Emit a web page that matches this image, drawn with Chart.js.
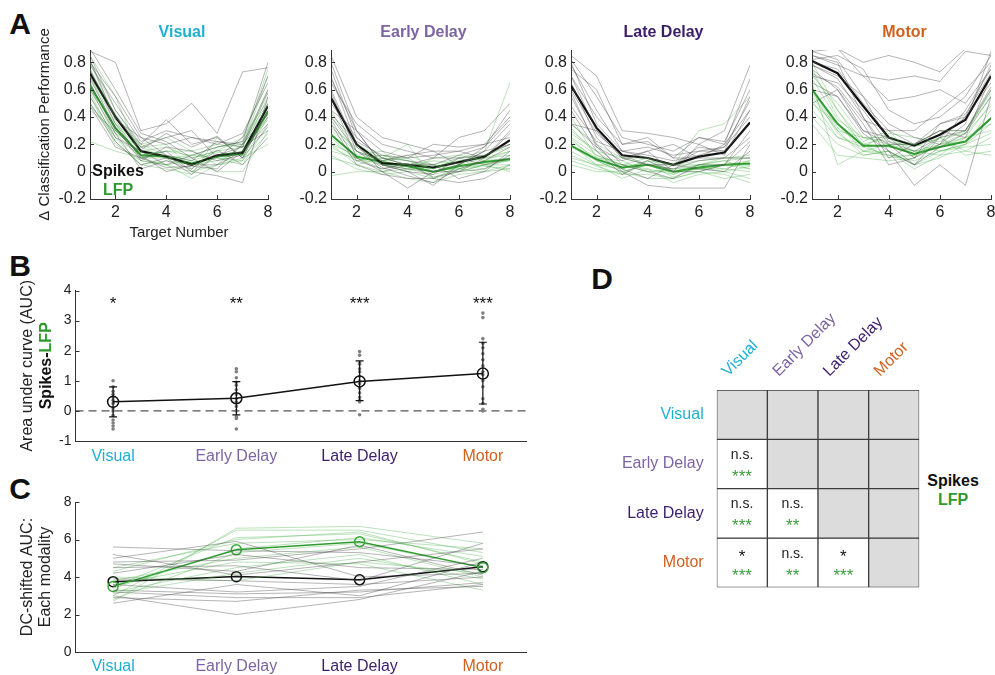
<!DOCTYPE html>
<html>
<head>
<meta charset="utf-8">
<title>Spikes vs LFP classification performance</title>
<script src="https://cdn.jsdelivr.net/npm/chart.js@4.4.1/dist/chart.umd.min.js"></script>
<style>
  html, body { margin:0; padding:0; background:#ffffff; }
  body { position:relative; width:995px; height:675px; overflow:hidden; font-family:"Liberation Sans", Arial, sans-serif; }
  canvas { position:absolute; }
  .t { position:absolute; white-space:nowrap; line-height:1; transform:translate(-50%,-50%); }
</style>
</head>
<body>
<div class="t" style="left:20px;top:24px;font-size:30px;font-weight:bold;color:#111">A</div>
<div class="t" style="left:20px;top:266px;font-size:30px;font-weight:bold;color:#111">B</div>
<div class="t" style="left:20px;top:489px;font-size:30px;font-weight:bold;color:#111">C</div>
<div class="t" style="left:602px;top:279px;font-size:30px;font-weight:bold;color:#111">D</div>
<div class="t" style="left:118px;top:171px;font-size:16px;font-weight:bold;color:#111;z-index:5">Spikes</div>
<div class="t" style="left:118px;top:190px;font-size:16px;font-weight:bold;color:#2d9a2d;z-index:5">LFP</div>
<div class="t" style="left:953px;top:481px;font-size:16px;font-weight:bold;color:#111">Spikes</div>
<div class="t" style="left:953px;top:500px;font-size:16px;font-weight:bold;color:#2d9a2d">LFP</div>
<script>
// ================= DATA =================
const TARGETS = [1, 2, 3, 4, 5, 6, 7, 8];
const A_XTICKS = [2, 4, 6, 8];
const A_YTICKS = [-0.2, 0, 0.2, 0.4, 0.6, 0.8];
const A_YTICK_LABELS = ['-0.2', '0', '0.2', '0.4', '0.6', '0.8'];

const EPOCHS = ['Visual', 'Early Delay', 'Late Delay', 'Motor'];
const EPOCH_COLORS = ['#1fb0d3', '#7d64a3', '#3b1d6c', '#d0611f'];

// Panel A — Visual
const visualSpikesMean = [0.72, 0.40, 0.15, 0.11, 0.05, 0.12, 0.14, 0.48];
const visualLfpMean    = [0.63, 0.32, 0.12, 0.11, 0.06, 0.11, 0.13, 0.44];
const visualSpikes = [
  [0.88, 0.80, 0.30, 0.35, 0.50, 0.28, 0.73, 0.76],
  [0.80, 0.55, 0.25, 0.20, 0.25, 0.22, 0.20, 0.60],
  [0.85, 0.45, 0.20, 0.38, 0.20, 0.25, 0.10, 0.45],
  [0.65, 0.30, 0.12, 0.00, 0.05, 0.05, 0.15, 0.35],
  [0.75, 0.35, 0.10, 0.15, 0.00, -0.03, -0.08, 0.55],
  [0.55, 0.25, 0.15, 0.05, 0.12, 0.18, 0.22, 0.80],
  [0.90, 0.60, 0.28, 0.22, 0.10, 0.00, 0.15, 0.40],
  [0.50, 0.22, 0.05, 0.10, -0.02, 0.12, 0.18, 0.30],
  [0.70, 0.40, 0.18, 0.25, 0.30, 0.10, 0.25, 0.70],
  [0.60, 0.28, 0.02, 0.08, 0.02, 0.16, 0.05, 0.25],
  [0.78, 0.50, 0.22, 0.30, 0.25, 0.20, 0.28, 0.65],
  [0.68, 0.32, 0.08, 0.18, 0.15, 0.08, 0.12, 0.50],
  [0.82, 0.38, 0.25, 0.12, 0.08, 0.22, 0.18, 0.58],
  [0.48, 0.18, 0.10, 0.03, 0.04, 0.02, 0.20, 0.42],
  [0.73, 0.42, 0.16, 0.28, 0.18, 0.26, 0.10, 0.33]
];
const visualLfp = [
  [0.85, 0.55, 0.10, 0.10, 0.05, 0.10, 0.08, 0.40],
  [0.22, 0.15, 0.10, 0.05, -0.05, 0.05, 0.10, 0.20],
  [0.60, 0.35, 0.15, 0.18, 0.10, 0.15, 0.18, 0.60],
  [0.75, 0.40, 0.20, 0.12, 0.00, 0.12, 0.15, 0.55],
  [0.50, 0.25, 0.05, 0.02, -0.02, 0.25, 0.10, 0.45],
  [0.70, 0.30, 0.12, 0.15, 0.15, 0.05, 0.20, 0.75],
  [0.55, 0.20, 0.08, 0.05, 0.08, 0.00, 0.00, 0.30],
  [0.80, 0.45, 0.18, 0.20, 0.02, 0.18, 0.22, 0.50],
  [0.45, 0.30, 0.14, 0.10, 0.12, 0.10, 0.05, 0.35],
  [0.65, 0.28, 0.10, 0.12, 0.08, 0.14, 0.12, 0.42],
  [0.70, 0.35, 0.20, 0.25, 0.15, 0.20, 0.18, 0.70],
  [0.58, 0.22, 0.05, 0.08, 0.05, 0.08, 0.15, 0.38],
  [0.48, 0.28, 0.18, 0.10, 0.10, 0.15, 0.25, 0.52],
  [0.80, 0.38, 0.08, 0.05, 0.00, 0.05, 0.08, 0.28],
  [0.62, 0.25, 0.12, 0.15, 0.12, 0.18, 0.20, 0.48]
];

// Panel A — Early Delay
const earlySpikesMean = [0.54, 0.20, 0.06, 0.05, 0.03, 0.07, 0.11, 0.23];
const earlyLfpMean    = [0.27, 0.11, 0.07, 0.04, 0.00, 0.04, 0.07, 0.09];
const earlySpikes = [
  [0.85, 0.40, 0.25, 0.20, 0.15, 0.15, 0.20, 0.40],
  [0.80, 0.30, 0.05, 0.00, -0.10, 0.05, 0.15, 0.35],
  [0.70, 0.20, 0.00, 0.05, 0.10, 0.25, 0.30, 0.50],
  [0.55, 0.10, 0.00, -0.12, 0.00, 0.00, 0.10, 0.30],
  [0.50, 0.25, 0.10, 0.05, 0.05, -0.05, 0.00, 0.15],
  [0.40, 0.15, 0.08, 0.12, 0.15, 0.05, 0.15, 0.20],
  [0.65, 0.35, 0.20, 0.15, 0.10, 0.10, 0.05, 0.10],
  [0.35, 0.05, -0.02, -0.05, -0.05, -0.08, -0.05, 0.05],
  [0.45, 0.30, 0.15, 0.10, 0.20, 0.18, 0.20, 0.25],
  [0.60, 0.18, 0.05, 0.00, -0.02, 0.10, 0.12, 0.20],
  [0.75, 0.25, 0.10, 0.08, 0.05, 0.12, 0.18, 0.45],
  [0.58, 0.15, 0.03, -0.03, -0.08, 0.02, 0.08, 0.18],
  [0.42, 0.22, 0.12, 0.10, 0.12, 0.15, 0.10, 0.28],
  [0.68, 0.30, 0.05, 0.02, 0.00, 0.05, 0.18, 0.38],
  [0.38, 0.08, 0.02, 0.06, -0.04, 0.00, 0.02, 0.12]
];
const earlyLfp = [
  [0.30, 0.15, 0.05, 0.05, 0.00, 0.05, 0.10, 0.15],
  [0.20, 0.05, 0.10, 0.20, -0.05, 0.00, 0.05, 0.05],
  [0.10, 0.05, 0.00, -0.05, -0.08, -0.02, 0.00, 0.02],
  [0.40, 0.20, 0.10, 0.05, 0.05, 0.10, 0.15, 0.65],
  [0.25, 0.08, 0.12, 0.08, 0.02, 0.08, 0.10, 0.12],
  [0.15, 0.10, 0.05, 0.02, 0.05, 0.00, 0.05, 0.08],
  [0.35, 0.15, 0.08, 0.10, 0.00, 0.05, 0.02, 0.10],
  [-0.03, 0.00, 0.00, 0.02, -0.02, 0.02, 0.05, 0.00],
  [0.20, 0.12, 0.15, 0.00, 0.10, 0.12, 0.08, 0.15],
  [0.28, 0.10, 0.02, 0.06, -0.05, 0.04, 0.06, 0.08],
  [0.22, 0.10, 0.12, 0.08, 0.02, 0.10, 0.12, 0.20],
  [0.32, 0.18, 0.08, 0.12, 0.05, 0.02, 0.08, 0.10],
  [0.12, 0.02, -0.02, 0.00, -0.05, 0.02, 0.00, 0.05],
  [0.45, 0.12, 0.05, 0.04, 0.08, 0.06, 0.12, 0.18],
  [0.18, 0.08, 0.10, 0.05, 0.00, 0.05, 0.04, 0.02]
];

// Panel A — Late Delay
const lateSpikesMean = [0.63, 0.32, 0.12, 0.10, 0.05, 0.11, 0.14, 0.36];
const lateLfpMean    = [0.19, 0.09, 0.03, 0.05, 0.00, 0.03, 0.05, 0.06];
const lateSpikes = [
  [0.85, 0.70, 0.30, 0.28, 0.25, 0.20, 0.30, 0.78],
  [0.75, 0.60, 0.20, 0.25, 0.10, 0.25, 0.20, 0.68],
  [0.80, 0.35, 0.15, 0.10, 0.05, 0.15, 0.15, 0.55],
  [0.65, 0.25, 0.05, 0.00, -0.05, 0.05, 0.05, 0.30],
  [0.70, 0.40, 0.20, 0.22, 0.10, 0.10, 0.20, 0.45],
  [0.55, 0.20, 0.00, -0.10, -0.12, -0.12, -0.12, 0.20],
  [0.35, 0.30, 0.10, 0.15, 0.20, 0.10, 0.10, 0.10],
  [0.60, 0.28, 0.12, 0.05, 0.05, 0.18, 0.15, 0.35],
  [0.45, 0.15, -0.02, 0.08, 0.00, 0.00, 0.05, 0.22],
  [0.78, 0.45, 0.15, 0.12, 0.08, 0.12, 0.18, 0.40],
  [0.82, 0.55, 0.25, 0.20, 0.15, 0.25, 0.22, 0.60],
  [0.58, 0.18, 0.08, 0.15, 0.00, 0.20, 0.12, 0.45],
  [0.70, 0.30, 0.10, 0.05, 0.02, 0.08, 0.10, 0.25],
  [0.48, 0.22, 0.15, 0.18, 0.12, 0.15, 0.18, 0.52],
  [0.35, 0.18, 0.02, -0.05, 0.05, 0.02, 0.00, 0.15]
];
const lateLfp = [
  [0.25, 0.12, 0.05, 0.05, 0.00, 0.05, 0.05, 0.05],
  [0.18, 0.08, 0.00, 0.05, 0.00, 0.00, 0.05, 0.02],
  [0.35, 0.20, 0.10, 0.10, 0.05, 0.30, 0.35, 0.55],
  [0.10, 0.05, -0.05, 0.02, -0.08, -0.02, 0.00, -0.05],
  [0.22, 0.10, 0.08, 0.00, 0.02, 0.02, 0.05, 0.08],
  [0.05, 0.00, 0.00, -0.05, -0.05, 0.00, -0.02, -0.08],
  [0.30, 0.15, 0.02, 0.08, 0.05, 0.05, 0.10, 0.10],
  [0.15, 0.05, 0.05, 0.02, -0.02, 0.05, 0.08, 0.02],
  [0.40, 0.10, 0.05, 0.10, 0.00, 0.02, 0.02, 0.08],
  [0.12, 0.04, -0.02, 0.06, -0.04, 0.03, 0.00, 0.04],
  [0.28, 0.15, 0.10, 0.05, 0.05, 0.08, 0.10, 0.12],
  [0.20, 0.05, 0.02, 0.08, -0.02, 0.05, 0.02, 0.00],
  [0.32, 0.12, 0.05, 0.00, 0.00, 0.02, 0.05, 0.05],
  [0.08, 0.02, -0.02, -0.02, -0.05, 0.00, -0.05, -0.02],
  [0.24, 0.08, 0.00, 0.05, 0.02, 0.05, 0.08, 0.10]
];

// Panel A — Motor
const motorSpikesMean = [0.81, 0.72, 0.48, 0.25, 0.19, 0.27, 0.38, 0.70];
const motorLfpMean    = [0.60, 0.35, 0.19, 0.19, 0.13, 0.18, 0.22, 0.39];
const motorSpikes = [
  [0.90, 0.90, 0.80, 0.85, 0.80, 0.73, 0.90, 0.90],
  [0.85, 0.78, 0.70, 0.67, 0.70, 0.66, 0.88, 0.85],
  [0.88, 0.90, 0.70, 0.52, 0.55, 0.60, 0.50, 0.75],
  [0.80, 0.75, 0.50, 0.30, 0.30, 0.45, 0.60, 0.80],
  [0.75, 0.60, 0.30, 0.25, 0.10, 0.35, 0.40, 0.65],
  [0.70, 0.65, 0.45, 0.20, 0.05, 0.25, 0.30, 0.60],
  [0.85, 0.80, 0.40, 0.15, -0.10, 0.05, -0.10, 0.55],
  [0.60, 0.55, 0.30, 0.20, 0.20, 0.30, 0.25, 0.70],
  [0.50, 0.60, 0.35, 0.05, 0.10, 0.20, 0.35, 0.88],
  [0.78, 0.70, 0.55, 0.35, 0.25, 0.20, 0.45, 0.75],
  [0.82, 0.85, 0.75, 0.45, 0.35, 0.40, 0.55, 0.85],
  [0.72, 0.62, 0.38, 0.30, 0.20, 0.30, 0.30, 0.62],
  [0.88, 0.82, 0.55, 0.22, 0.15, 0.25, 0.40, 0.78],
  [0.65, 0.55, 0.28, 0.15, 0.05, 0.18, 0.28, 0.55],
  [0.78, 0.68, 0.40, 0.10, 0.20, 0.35, 0.42, 0.72]
];
const motorLfp = [
  [0.75, 0.40, 0.20, 0.25, 0.15, 0.20, 0.25, 0.50],
  [0.55, 0.30, 0.12, 0.15, 0.05, 0.10, 0.20, 0.45],
  [0.65, 0.05, 0.15, 0.20, 0.20, 0.15, 0.20, 0.35],
  [0.45, 0.25, 0.20, 0.10, 0.12, 0.25, 0.12, 0.15],
  [0.70, 0.50, 0.25, 0.25, 0.20, 0.30, 0.30, 0.55],
  [0.50, 0.35, 0.15, 0.15, 0.02, 0.12, 0.15, 0.25],
  [0.60, 0.30, 0.25, 0.20, 0.15, 0.18, 0.25, 0.30],
  [0.35, 0.12, 0.10, 0.08, 0.10, 0.25, 0.15, 0.12],
  [0.80, 0.45, 0.22, 0.30, 0.10, 0.20, 0.28, 0.60],
  [0.52, 0.25, 0.18, 0.12, 0.08, 0.15, 0.20, 0.28],
  [0.68, 0.38, 0.25, 0.22, 0.18, 0.25, 0.28, 0.48],
  [0.58, 0.28, 0.15, 0.12, 0.12, 0.20, 0.22, 0.40],
  [0.72, 0.45, 0.18, 0.28, 0.25, 0.22, 0.30, 0.58],
  [0.40, 0.20, 0.12, 0.15, 0.05, 0.15, 0.18, 0.20],
  [0.62, 0.32, 0.20, 0.18, 0.15, 0.12, 0.25, 0.35]
];

// Panel B — AUC difference (Spikes - LFP)
const B_XPOS = [1, 2, 3, 4];
const B_YTICKS = [-1, 0, 1, 2, 3, 4];
const B_MEAN = [0.30, 0.42, 0.98, 1.24];
const B_ERR_LO = [-0.20, -0.13, 0.34, 0.23];
const B_ERR_HI = [0.80, 0.97, 1.66, 2.28];
const B_SIG = ['*', '**', '***', '***'];
const B_SIG_Y = 3.72;
const B_VISUAL_PTS = [1.0, 0.8, 0.65, 0.55, 0.45, 0.35, 0.25, 0.1, 0.0, -0.15, -0.3, -0.4, -0.5, -0.6];
const B_EARLY_PTS  = [1.4, 1.3, 1.1, 0.95, 0.85, 0.7, 0.55, 0.4, 0.3, 0.15, 0.0, -0.2, -0.25, -0.6];
const B_LATE_PTS   = [1.97, 1.85, 1.6, 1.55, 1.4, 1.3, 1.15, 1.0, 0.9, 0.75, 0.6, 0.45, 0.35, 0.3, -0.13];
const B_MOTOR_PTS  = [3.25, 3.1, 2.4, 2.25, 2.1, 1.9, 1.7, 1.5, 1.3, 1.2, 1.0, 0.8, 0.4, 0.25, 0.05, 0.0];

// Panel C — DC-shifted AUC per modality
const C_YTICKS = [0, 2, 4, 6, 8];
const C_SPIKES_MEAN = [3.75, 4.02, 3.85, 4.55];
const C_LFP_MEAN = [3.50, 5.45, 5.88, 4.50];
const C_SPIKES = [
  [5.6, 5.4, 5.3, 4.6], [5.0, 5.9, 4.0, 4.2], [4.8, 4.9, 5.5, 6.4], [4.5, 4.6, 3.8, 5.8],
  [4.2, 5.2, 4.5, 4.4], [3.9, 3.8, 3.6, 4.0], [3.6, 3.2, 3.5, 5.0], [3.3, 3.1, 3.2, 3.7],
  [3.0, 2.0, 2.8, 4.3], [2.9, 2.7, 3.3, 3.5], [2.6, 3.6, 3.0, 4.8], [4.7, 4.3, 5.7, 4.1],
  [3.2, 2.9, 2.9, 3.6], [5.2, 4.1, 4.8, 5.5]
];
const C_LFP = [
  [2.7, 6.6, 6.7, 5.8], [3.0, 6.5, 6.5, 5.3], [3.5, 6.1, 6.3, 4.8], [4.5, 5.8, 6.0, 5.5],
  [3.8, 5.0, 5.6, 4.0], [3.2, 4.5, 5.2, 3.6], [4.0, 3.8, 4.8, 4.2], [2.8, 5.3, 5.8, 4.5],
  [3.6, 4.8, 4.7, 3.3], [4.3, 6.0, 6.4, 4.7], [3.1, 4.2, 5.0, 3.9], [3.4, 5.5, 6.1, 5.1]
];

// Panel D — pairwise significance matrix (row vs column)
const D_SPIKES_SIG = [
  [null, null, null, null],
  ['n.s.', null, null, null],
  ['n.s.', 'n.s.', null, null],
  ['*', 'n.s.', '*', null]
];
const D_LFP_SIG = [
  [null, null, null, null],
  ['***', null, null, null],
  ['***', '**', null, null],
  ['***', '**', '***', null]
];

// ================= STYLE =================
const FONT = '"Liberation Sans", Arial, Helvetica, sans-serif';
const TEXT_COLOR = '#222222';
const AXIS_COLOR = '#333333';
const GREY_IND = 'rgba(70,70,70,0.40)';
const GREEN_IND = 'rgba(70,175,70,0.36)';
const SPIKE_COLOR = '#111111';
const LFP_COLOR = '#2d9a2d';
const STAR_GREEN = '#3e9b3e';
Chart.defaults.font.family = FONT;
Chart.defaults.color = TEXT_COLOR;

// ================= HELPERS =================
function place(id, box, area, cfg, xTop) {
  const cv = document.createElement('canvas');
  cv.id = id;
  cv.width = box.W; cv.height = box.H;
  cv.style.left = box.L + 'px'; cv.style.top = box.T + 'px';
  cv.style.width = box.W + 'px'; cv.style.height = box.H + 'px';
  document.body.appendChild(cv);
  const o = cfg.options;
  o.responsive = false; o.animation = false; o.devicePixelRatio = 1; o.events = [];
  o.plugins = Object.assign({legend: {display: false}, tooltip: {enabled: false}}, o.plugins || {});
  o.layout = {padding: xTop
    ? {left: 0, top: 0, right: box.L + box.W - area.r, bottom: box.T + box.H - area.b}
    : {left: 0, top: area.t - box.T, right: box.L + box.W - area.r, bottom: 0}};
  o.scales.x.afterFit = s => { s.height = xTop ? area.t - box.T : box.T + box.H - area.b; };
  o.scales.y.afterFit = s => { s.width = area.l - box.L; };
  return new Chart(cv, cfg);
}
function axisBase(size, pad) {
  return {
    grid: {display: false, drawTicks: false},
    border: {display: true, color: AXIS_COLOR, width: 1},
    ticks: {color: TEXT_COLOR, font: {size: size, family: FONT}, padding: pad, maxRotation: 0, minRotation: 0, autoSkip: false}
  };
}
function lineDs(xs, vals, color, width, extra) {
  return Object.assign({
    data: xs.map((x, i) => ({x: x, y: vals[i]})),
    borderColor: color, borderWidth: width, pointRadius: 0, tension: 0, fill: false
  }, extra || {});
}
function inTicksPlugin(axes) {
  return {
    id: 'inTicks',
    afterDraw(chart) {
      const ctx = chart.ctx; ctx.save();
      ctx.strokeStyle = AXIS_COLOR; ctx.lineWidth = 1;
      axes.forEach(id => {
        const s = chart.scales[id];
        s.ticks.forEach((t, i) => {
          const p = Math.round(s.getPixelForTick(i)) + 0.5;
          ctx.beginPath();
          if (s.isHorizontal()) { ctx.moveTo(p, s.top); ctx.lineTo(p, s.top - 4); }
          else { ctx.moveTo(s.right, p); ctx.lineTo(s.right + 4, p); }
          ctx.stroke();
        });
      });
      ctx.restore();
    }
  };
}
function drawStars(ctx, text, x, yVisual, size, color) {
  ctx.save();
  ctx.font = size + 'px ' + FONT;
  ctx.fillStyle = color; ctx.textAlign = 'center'; ctx.textBaseline = 'alphabetic';
  ctx.fillText(text, x, yVisual + 0.575 * size);
  ctx.restore();
}

// ================= PANEL A =================
function makeA(id, box, area, title, titleColor, spikes, lfp, spMean, lfMean, withTitles) {
  const ds = [];
  spikes.forEach(v => ds.push(lineDs(TARGETS, v, GREY_IND, 1)));
  lfp.forEach(v => ds.push(lineDs(TARGETS, v, GREEN_IND, 1)));
  ds.push(lineDs(TARGETS, spMean, SPIKE_COLOR, 2.2));
  ds.push(lineDs(TARGETS, lfMean, LFP_COLOR, 2));
  const x = Object.assign(axisBase(16, 4), {type: 'linear', min: 1, max: 8,
    afterBuildTicks: s => { s.ticks = A_XTICKS.map(v => ({value: v})); }});
  x.ticks.callback = (v, i) => String(A_XTICKS[i]);
  const y = Object.assign(axisBase(16, 4), {type: 'linear', min: -0.2, max: 0.89,
    afterBuildTicks: s => { s.ticks = A_YTICKS.map(v => ({value: v})); }});
  y.ticks.callback = (v, i) => A_YTICK_LABELS[i];
  if (withTitles) {
    y.title = {display: true, text: 'Δ Classification Performance', color: TEXT_COLOR,
      font: {size: 15, family: FONT}, padding: {top: 36, bottom: 0}};
    x.title = {display: true, text: 'Target Number', color: TEXT_COLOR,
      font: {size: 15, family: FONT}, padding: {top: 0, bottom: 8}};
  }
  const titlePlugin = {
    id: 'panelTitle',
    afterDraw(chart) {
      const a = chart.chartArea, ctx = chart.ctx;
      ctx.save();
      ctx.font = 'bold 16px ' + FONT; ctx.fillStyle = titleColor;
      ctx.textAlign = 'center'; ctx.textBaseline = 'middle';
      ctx.fillText(title, (a.left + a.right) / 2 + 3, a.top - 17);
      ctx.restore();
    }
  };
  place(id, box, area, {type: 'line', data: {datasets: ds},
    options: {scales: {x: x, y: y}}, plugins: [titlePlugin, inTicksPlugin(['x', 'y'])]});
}
makeA('a1', {L: 0, T: 10, W: 285, H: 240}, {l: 90, t: 50, r: 268, b: 199}, EPOCHS[0], EPOCH_COLORS[0],
  visualSpikes, visualLfp, visualSpikesMean, visualLfpMean, true);
makeA('a2', {L: 290, T: 10, W: 230, H: 240}, {l: 331, t: 50, r: 510, b: 199}, EPOCHS[1], EPOCH_COLORS[1],
  earlySpikes, earlyLfp, earlySpikesMean, earlyLfpMean, false);
makeA('a3', {L: 530, T: 10, W: 230, H: 240}, {l: 571, t: 50, r: 750, b: 199}, EPOCHS[2], EPOCH_COLORS[2],
  lateSpikes, lateLfp, lateSpikesMean, lateLfpMean, false);
makeA('a4', {L: 771, T: 10, W: 236, H: 240}, {l: 812, t: 50, r: 991, b: 199}, EPOCHS[3], EPOCH_COLORS[3],
  motorSpikes, motorLfp, motorSpikesMean, motorLfpMean, false);

// ================= PANEL B =================
const BC_XMIN = 0.695, BC_XMAX = 4.35;
(function () {
  const allPts = [B_VISUAL_PTS, B_EARLY_PTS, B_LATE_PTS, B_MOTOR_PTS];
  const dots = [];
  allPts.forEach((arr, i) => arr.forEach(v => dots.push({x: B_XPOS[i], y: v})));
  const ds = [
    {data: [{x: BC_XMIN, y: 0}, {x: BC_XMAX, y: 0}], borderColor: '#555555', borderWidth: 1.2,
      borderDash: [8, 5], pointRadius: 0, order: 5},
    {data: dots, showLine: false, pointRadius: 1.8, pointBackgroundColor: '#808080',
      pointBorderWidth: 0, borderColor: 'transparent', order: 4},
    lineDs(B_XPOS, B_MEAN, SPIKE_COLOR, 1.5, {pointRadius: 5.5, pointBorderColor: SPIKE_COLOR,
      pointBackgroundColor: 'rgba(0,0,0,0)', pointBorderWidth: 1.5, order: 1})
  ];
  const x = Object.assign(axisBase(16, 6), {type: 'linear', min: BC_XMIN, max: BC_XMAX,
    afterBuildTicks: s => { s.ticks = B_XPOS.map(v => ({value: v})); }});
  x.ticks.callback = (v, i) => EPOCHS[i];
  x.ticks.color = ctx => EPOCH_COLORS[ctx.index];
  const y = Object.assign(axisBase(14, 4), {type: 'linear', min: -1, max: 4,
    afterBuildTicks: s => { s.ticks = B_YTICKS.map(v => ({value: v})); }});
  y.ticks.callback = (v, i) => String(B_YTICKS[i]);
  const extras = {
    id: 'bExtras',
    afterDatasetsDraw(chart) {
      const ctx = chart.ctx, xs = chart.scales.x, ys = chart.scales.y;
      ctx.save();
      ctx.strokeStyle = SPIKE_COLOR; ctx.lineWidth = 1.2;
      B_XPOS.forEach((xv, i) => {
        const px = xs.getPixelForValue(xv);
        const lo = ys.getPixelForValue(B_ERR_LO[i]), hi = ys.getPixelForValue(B_ERR_HI[i]);
        ctx.beginPath();
        ctx.moveTo(px, lo); ctx.lineTo(px, hi);
        ctx.moveTo(px - 4, lo); ctx.lineTo(px + 4, lo);
        ctx.moveTo(px - 4, hi); ctx.lineTo(px + 4, hi);
        ctx.stroke();
        drawStars(ctx, B_SIG[i], px, ys.getPixelForValue(B_SIG_Y), 17, SPIKE_COLOR);
      });
      ctx.restore();
    },
    afterDraw(chart) {
      const ctx = chart.ctx, a = chart.chartArea;
      const cy = (a.top + a.bottom) / 2;
      ctx.save();
      ctx.translate(28, cy); ctx.rotate(-Math.PI / 2);
      ctx.textAlign = 'center'; ctx.textBaseline = 'middle';
      ctx.font = '16px ' + FONT; ctx.fillStyle = TEXT_COLOR;
      ctx.fillText('Area under curve (AUC)', 0, 0);
      ctx.restore();
      ctx.save();
      ctx.translate(47, cy); ctx.rotate(-Math.PI / 2);
      ctx.font = 'bold 16px ' + FONT; ctx.textBaseline = 'middle'; ctx.textAlign = 'left';
      const w1 = ctx.measureText('Spikes-').width, w2 = ctx.measureText('LFP').width;
      const start = -(w1 + w2) / 2;
      ctx.fillStyle = SPIKE_COLOR; ctx.fillText('Spikes-', start, 0);
      ctx.fillStyle = LFP_COLOR; ctx.fillText('LFP', start + w1, 0);
      ctx.restore();
    }
  };
  place('b', {L: 0, T: 262, W: 545, H: 210}, {l: 75.5, t: 290.5, r: 526, b: 441},
    {type: 'line', data: {datasets: ds}, options: {scales: {x: x, y: y}},
      plugins: [extras, inTicksPlugin(['y'])]});
})();

// ================= PANEL C =================
(function () {
  const ds = [];
  C_SPIKES.forEach(v => ds.push(lineDs(B_XPOS, v, GREY_IND, 1)));
  C_LFP.forEach(v => ds.push(lineDs(B_XPOS, v, GREEN_IND, 1)));
  ds.push(lineDs(B_XPOS, C_LFP_MEAN, LFP_COLOR, 1.5, {pointRadius: 5, pointBorderColor: '#38a838',
    pointBackgroundColor: 'rgba(0,0,0,0)', pointBorderWidth: 1.5}));
  ds.push(lineDs(B_XPOS, C_SPIKES_MEAN, SPIKE_COLOR, 1.5, {pointRadius: 5, pointBorderColor: SPIKE_COLOR,
    pointBackgroundColor: 'rgba(0,0,0,0)', pointBorderWidth: 1.5}));
  const x = Object.assign(axisBase(16, 5), {type: 'linear', min: BC_XMIN, max: BC_XMAX,
    afterBuildTicks: s => { s.ticks = B_XPOS.map(v => ({value: v})); }});
  x.ticks.callback = (v, i) => EPOCHS[i];
  x.ticks.color = ctx => EPOCH_COLORS[ctx.index];
  const y = Object.assign(axisBase(14, 4), {type: 'linear', min: 0, max: 8,
    afterBuildTicks: s => { s.ticks = C_YTICKS.map(v => ({value: v})); }});
  y.ticks.callback = (v, i) => String(C_YTICKS[i]);
  y.title = {display: true, text: ['DC-shifted AUC:', 'Each modality'], color: TEXT_COLOR,
    font: {size: 16, family: FONT, lineHeight: 1.1}, padding: {top: 19, bottom: 0}};
  place('c', {L: 0, T: 480, W: 545, H: 195}, {l: 75.5, t: 502, r: 526, b: 652},
    {type: 'line', data: {datasets: ds}, options: {scales: {x: x, y: y}},
      plugins: [inTicksPlugin(['y'])]});
})();

// ================= PANEL D =================
(function () {
  const n = EPOCHS.length;
  const ds = EPOCHS.map((row, ri) => ({
    label: row,
    data: EPOCHS.map(() => [ri, ri + 1]),
    backgroundColor: EPOCHS.map((c, ci) => ci >= ri ? '#dcdcdc' : '#ffffff'),
    borderColor: '#3c3c3c', borderWidth: 1, borderSkipped: false,
    barPercentage: 1, categoryPercentage: 1, grouped: false
  }));
  const x = {position: 'top', grid: {display: false, drawTicks: false}, border: {display: false},
    ticks: {display: false}};
  const y = {type: 'linear', min: 0, max: n, reverse: true,
    grid: {display: false, drawTicks: false}, border: {display: false},
    afterBuildTicks: s => { s.ticks = EPOCHS.map((r, i) => ({value: i + 0.5})); },
    ticks: {callback: (v, i) => EPOCHS[i], color: ctx => EPOCH_COLORS[ctx.index],
      font: {size: 16, family: FONT}, padding: 13, autoSkip: false}};
  const extras = {
    id: 'dExtras',
    afterDatasetsDraw(chart) {
      const ctx = chart.ctx, xs = chart.scales.x, ys = chart.scales.y, a = chart.chartArea;
      for (let r = 0; r < n; r++) {
        for (let c = 0; c < n; c++) {
          const px = xs.getPixelForValue(c), cy = ys.getPixelForValue(r + 0.5);
          const s = D_SPIKES_SIG[r][c], l = D_LFP_SIG[r][c];
          if (s) {
            if (s.indexOf('*') === 0) drawStars(ctx, s, px, cy - 11, 17, SPIKE_COLOR);
            else {
              ctx.save(); ctx.font = '14px ' + FONT; ctx.fillStyle = TEXT_COLOR;
              ctx.textAlign = 'center'; ctx.textBaseline = 'middle';
              ctx.fillText(s, px, cy - 9); ctx.restore();
            }
          }
          if (l) drawStars(ctx, l, px, cy + 8, 17, STAR_GREEN);
        }
      }
      EPOCHS.forEach((lab, c) => {
        const px = xs.getPixelForValue(c);
        ctx.save();
        ctx.translate(px - 14, a.top - 13);
        ctx.rotate(-Math.PI / 4);
        ctx.font = '16px ' + FONT; ctx.fillStyle = EPOCH_COLORS[c];
        ctx.textAlign = 'left'; ctx.textBaseline = 'alphabetic';
        ctx.fillText(lab, 0, 0);
        ctx.restore();
      });
    }
  };
  place('d', {L: 600, T: 300, W: 395, H: 310}, {l: 716.7, t: 390, r: 919.3, b: 591.7},
    {type: 'bar', data: {labels: EPOCHS, datasets: ds}, options: {scales: {x: x, y: y}},
      plugins: [extras]}, true);
})();
</script>
</body>
</html>
